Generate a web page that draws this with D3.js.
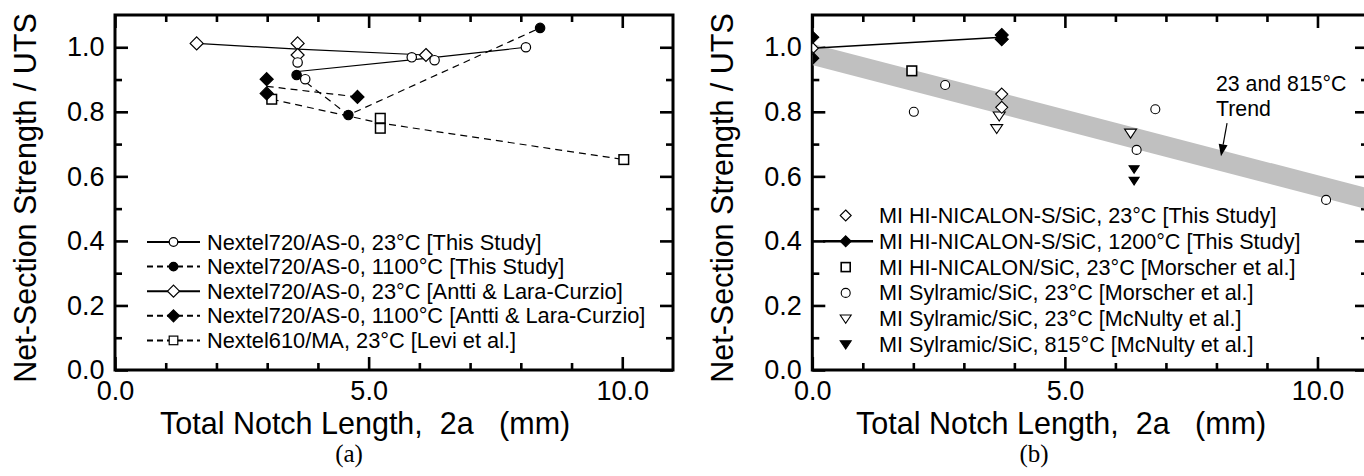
<!DOCTYPE html>
<html>
<head>
<meta charset="utf-8">
<script src="https://cdn.jsdelivr.net/npm/d3@7"></script>
<style>
body { margin: 0; background: #fff; }
text { font-family: Arial, "Liberation Sans", sans-serif; fill: #000; }
</style>
</head>
<body>
<svg id="chart" width="1364" height="476"></svg>
<script>
// axis ticks (both panels)
var xMajor = [0, 5, 10];
var xMinor = [1, 2, 3, 4, 6, 7, 8, 9];
var yMajor = [0, 0.2, 0.4, 0.6, 0.8, 1.0];
var yMinor = [0.1, 0.3, 0.5, 0.7, 0.9];

// ---- panel (a)
var a1X = [3.60, 3.75, 5.85, 6.30, 8.10];      // Nextel720 23C this study
var a1Y = [0.953, 0.901, 0.969, 0.960, 1.000];
var a1LineX = [3.60, 6.08, 8.10];
var a1LineY = [0.925, 0.965, 1.000];

var a2X = [3.58, 4.60, 8.38];                   // Nextel720 1100C this study
var a2Y = [0.914, 0.790, 1.060];

var a3X = [1.61, 3.60, 3.60, 6.13];             // Antti 23C
var a3Y = [1.012, 1.012, 0.976, 0.976];
var a3LineX = [1.61, 3.60, 6.13];
var a3LineY = [1.012, 0.994, 0.976];

var a4X = [2.99, 2.99, 4.78];                   // Antti 1100C
var a4Y = [0.901, 0.857, 0.846];
var a4LineX = [2.99, 4.78];
var a4LineY = [0.879, 0.846];

var a5X = [3.09, 5.23, 5.23, 10.03];            // Levi 610/MA
var a5Y = [0.839, 0.780, 0.749, 0.652];
var a5LineX = [3.09, 5.23, 10.03];
var a5LineY = [0.839, 0.765, 0.652];

var aLabels = ["Nextel720/AS-0, 23°C [This Study]",
               "Nextel720/AS-0, 1100°C [This Study]",
               "Nextel720/AS-0, 23°C [Antti & Lara-Curzio]",
               "Nextel720/AS-0, 1100°C [Antti & Lara-Curzio]",
               "Nextel610/MA, 23°C [Levi et al.]"];

// ---- panel (b)
var b1X = [0, 3.75, 3.75];                      // HI-NICALON-S 23C
var b1Y = [0.997, 0.855, 0.814];
var b2X = [0, 0, 3.75, 3.75];                   // HI-NICALON-S 1200C
var b2Y = [1.031, 0.966, 1.038, 1.025];
var b2LineX = [0, 3.75];
var b2LineY = [0.997, 1.031];
var b3X = [1.97];                               // HI-NICALON Morscher
var b3Y = [0.927];
var b4X = [2.01, 2.63, 6.42, 6.79, 10.17];      // Sylramic Morscher
var b4Y = [0.800, 0.883, 0.682, 0.808, 0.527];
var b5X = [3.70, 3.65, 6.30];                   // Sylramic McNulty 23C
var b5Y = [0.790, 0.751, 0.737];
var b6X = [6.37, 6.37];                         // Sylramic McNulty 815C
var b6Y = [0.625, 0.589];

var trendX = [0, 11];
var trendY = [0.978, 0.530];
var arrowX = [8.21, 8.09];
var arrowY = [0.765, 0.662];

var bLabels = ["MI HI-NICALON-S/SiC, 23°C [This Study]",
               "MI HI-NICALON-S/SiC, 1200°C [This Study]",
               "MI HI-NICALON/SiC, 23°C [Morscher et al.]",
               "MI Sylramic/SiC, 23°C [Morscher et al.]",
               "MI Sylramic/SiC, 23°C [McNulty et al.]",
               "MI Sylramic/SiC, 815°C [McNulty et al.]"];

var svg = d3.select("#chart");

function zip(xs, ys) { return xs.map(function(v, i) { return [v, ys[i]]; }); }

function drawMarker(g, type, filled, px, py, s, sw) {
  var fill = filled ? "#000" : "#fff";
  if (type == "circle") {
    g.append("circle").attr("cx", px).attr("cy", py).attr("r", s)
      .attr("fill", fill).attr("stroke", "#000").attr("stroke-width", sw);
  } else if (type == "square") {
    g.append("rect").attr("x", px - s).attr("y", py - s).attr("width", 2 * s).attr("height", 2 * s)
      .attr("fill", fill).attr("stroke", "#000").attr("stroke-width", sw);
  } else if (type == "diamond") {
    g.append("path").attr("d", "M" + px + "," + (py - s) + "L" + (px + s) + "," + py + "L" + px + "," + (py + s) + "L" + (px - s) + "," + py + "Z")
      .attr("fill", fill).attr("stroke", "#000").attr("stroke-width", sw);
  } else if (type == "tri") {
    var h = s * 1.5;
    g.append("path").attr("d", "M" + (px - s) + "," + (py - h / 3) + "L" + (px + s) + "," + (py - h / 3) + "L" + px + "," + (py + 2 * h / 3) + "Z")
      .attr("fill", fill).attr("stroke", "#000").attr("stroke-width", sw);
  }
}

function makePanel(left, right, yTitleX, titleX, tag, tagX) {
  var top = 15, bottom = 370;
  var x = d3.scaleLinear().domain([0, 11]).range([left, right]);
  var y = d3.scaleLinear().domain([0, 1.1]).range([bottom, top]);
  var g = svg.append("g");

  function ax(axis, tr, vals, size, labels) {
    var a = g.append("g").attr("transform", tr)
      .call(axis.tickValues(vals).tickSize(size).tickPadding(labels ? 10.5 : 0)
        .tickFormat(labels ? d3.format(".1f") : ""));
    a.select(".domain").remove();
    a.selectAll("line").attr("stroke-width", 2.6);
    a.selectAll("text").attr("font-size", 27).attr("font-family", "Arial, 'Liberation Sans', sans-serif");
    return a;
  }
  ax(d3.axisBottom(x), "translate(0," + bottom + ")", xMajor, -13, true);
  ax(d3.axisBottom(x), "translate(0," + bottom + ")", xMinor, -7, false);
  ax(d3.axisTop(x), "translate(0," + top + ")", xMajor, -13, false);
  ax(d3.axisTop(x), "translate(0," + top + ")", xMinor, -7, false);
  ax(d3.axisLeft(y), "translate(" + left + ",0)", yMajor, -13, true);
  ax(d3.axisLeft(y), "translate(" + left + ",0)", yMinor, -7, false);
  ax(d3.axisRight(y), "translate(" + right + ",0)", yMajor, -13, false);
  ax(d3.axisRight(y), "translate(" + right + ",0)", yMinor, -7, false);

  g.append("rect").attr("x", left).attr("y", top).attr("width", right - left).attr("height", bottom - top)
    .attr("fill", "none").attr("stroke", "#000").attr("stroke-width", 3);

  g.append("text").attr("x", titleX).attr("y", 434).attr("font-size", 30.5)
    .style("white-space", "pre").text("Total Notch Length,  2a   (mm)");
  g.append("text").attr("transform", "translate(" + yTitleX + ",198) rotate(-90)")
    .attr("text-anchor", "middle").attr("font-size", 30.5).text("Net-Section Strength / UTS");
  g.append("text").attr("x", tagX).attr("y", 462).attr("text-anchor", "middle")
    .attr("font-size", 25).style("font-family", "'Liberation Serif', 'Times New Roman', serif").text(tag);

  var clipId = "clip" + tag.replace(/\W/g, "");
  svg.append("clipPath").attr("id", clipId).append("rect")
    .attr("x", left).attr("y", top).attr("width", right - left).attr("height", bottom - top);
  var plot = g.append("g").attr("clip-path", "url(#" + clipId + ")");
  return { x: x, y: y, g: g, plot: plot };
}

function drawLine(p, xs, ys, dash, w) {
  var line = d3.line().x(function(d) { return p.x(d[0]); }).y(function(d) { return p.y(d[1]); });
  return p.plot.append("path").attr("d", line(zip(xs, ys))).attr("fill", "none")
    .attr("stroke", "#000").attr("stroke-width", w).attr("stroke-dasharray", dash ? "7,5" : null);
}

function drawPoints(p, xs, ys, type, filled, s, sw) {
  zip(xs, ys).forEach(function(d) { drawMarker(p.plot, type, filled, p.x(d[0]), p.y(d[1]), s, sw); });
}

// ===== panel (a)
var pa = makePanel(115, 673, 36, 160, "(a)", 349);
drawLine(pa, a5LineX, a5LineY, true, 1.2);
drawLine(pa, a4LineX, a4LineY, true, 1.2);
drawLine(pa, a2X, a2Y, true, 1.2);
drawLine(pa, a3LineX, a3LineY, false, 1.2);
drawLine(pa, a1LineX, a1LineY, false, 1.2);
drawPoints(pa, a5X, a5Y, "square", false, 4.8, 1.5);
drawPoints(pa, a4X, a4Y, "diamond", true, 6.5, 1.2);
drawPoints(pa, a3X, a3Y, "diamond", false, 6.5, 1.2);
drawPoints(pa, a2X, a2Y, "circle", true, 4.7, 1.2);
drawPoints(pa, a1X, a1Y, "circle", false, 4.7, 1.2);

var aLeg = [["circle", false, false], ["circle", true, true], ["diamond", false, false], ["diamond", true, true], ["square", false, true]];
aLeg.forEach(function(d, i) {
  var cy = 242 + i * 24.6;
  var lg = pa.g.append("g");
  lg.append("line").attr("x1", 147).attr("x2", 200).attr("y1", cy).attr("y2", cy)
    .attr("stroke", "#000").attr("stroke-width", 2).attr("stroke-dasharray", d[2] ? "6,4" : null);
  var s = d[0] == "diamond" ? 6 : 4.3;
  drawMarker(lg, d[0], d[1], 173.5, cy, s, 1.2);
  lg.append("text").attr("x", 207).attr("y", cy + 7.5).attr("font-size", 21.8).text(aLabels[i]);
});

// ===== panel (b)
var pb = makePanel(812.3, 1368, 733, 856, "(b)", 1034);
drawLine(pb, trendX, trendY, false, 20.5).attr("stroke", "#c0c0c0");
drawLine(pb, b2LineX, b2LineY, false, 1.6);
drawPoints(pb, b4X, b4Y, "circle", false, 4.5, 1.1);
drawPoints(pb, b3X, b3Y, "square", false, 4.8, 1.6);
drawPoints(pb, b5X, b5Y, "tri", false, 6, 1.1);
drawPoints(pb, b6X, b6Y, "tri", true, 5, 1.1);
drawPoints(pb, b1X, b1Y, "diamond", false, 6, 1.1);
drawPoints(pb, b2X, b2Y, "diamond", true, 6.5, 1.1);

// trend annotation
var ax0 = pb.x(arrowX[0]), ay0 = pb.y(arrowY[0]), ax1 = pb.x(arrowX[1]), ay1 = pb.y(arrowY[1]);
var ang = Math.atan2(ay1 - ay0, ax1 - ax0), hl = 12, hw = 4.5;
var bx = ax1 - hl * Math.cos(ang), by = ay1 - hl * Math.sin(ang);
pb.g.append("line").attr("x1", ax0).attr("y1", ay0).attr("x2", bx).attr("y2", by)
  .attr("stroke", "#000").attr("stroke-width", 1.2);
pb.g.append("path").attr("d", "M" + ax1 + "," + ay1 +
    "L" + (bx + hw * Math.sin(ang)) + "," + (by - hw * Math.cos(ang)) +
    "L" + (bx - hw * Math.sin(ang)) + "," + (by + hw * Math.cos(ang)) + "Z")
  .attr("fill", "#000");
pb.g.append("text").attr("x", 1216).attr("y", 90.5).attr("font-size", 21.3).text("23 and 815°C");
pb.g.append("text").attr("x", 1216).attr("y", 115.5).attr("font-size", 21.3).text("Trend");

var bLeg = [["diamond", false, false], ["diamond", true, true], ["square", false, false], ["circle", false, false], ["tri", false, false], ["tri", true, false]];
bLeg.forEach(function(d, i) {
  var cy = 215.5 + i * 25.8;
  var lg = pb.g.append("g");
  if (d[2]) {
    lg.append("line").attr("x1", 823).attr("x2", 873).attr("y1", cy).attr("y2", cy)
      .attr("stroke", "#000").attr("stroke-width", 2.5);
  }
  var s = d[0] == "diamond" ? 5.5 : (d[0] == "tri" ? 5.5 : 4.5);
  drawMarker(lg, d[0], d[1], 845.7, d[0] == "tri" ? cy - 1 : cy, s, d[0] == "square" ? 1.6 : 1.1);
  lg.append("text").attr("x", 879).attr("y", cy + 7.5).attr("font-size", 21.6).text(bLabels[i]);
});
</script>
</body>
</html>
